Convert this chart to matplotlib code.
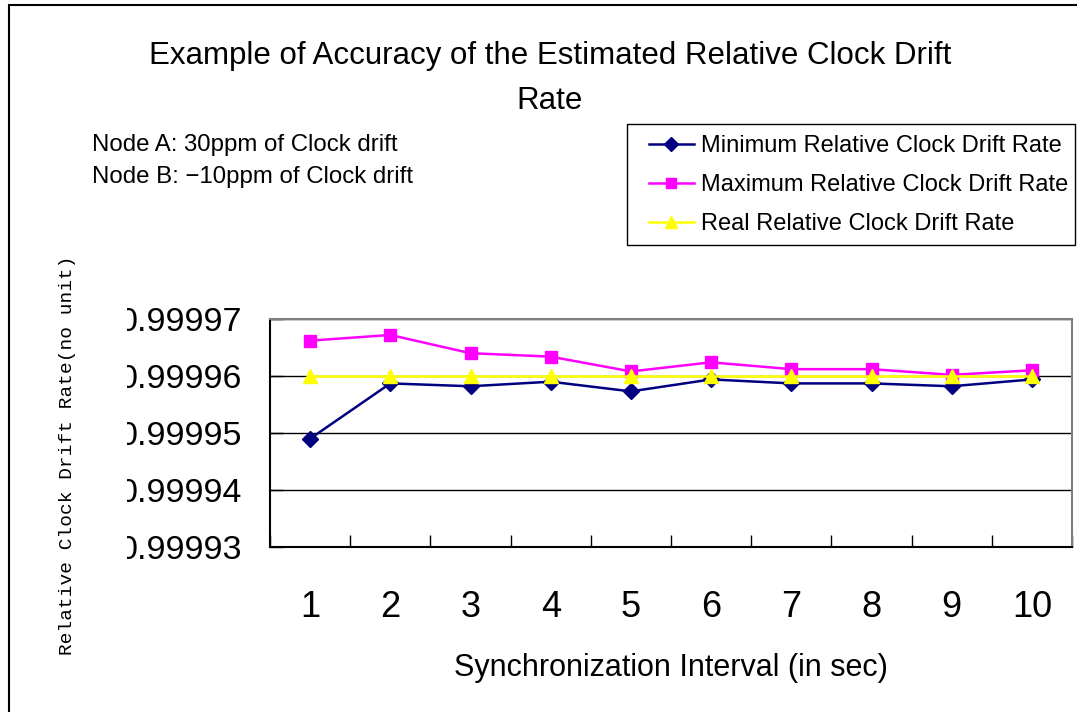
import matplotlib
matplotlib.use('Agg')
import matplotlib.pyplot as plt
from matplotlib.patches import Rectangle
from matplotlib.transforms import Bbox, TransformedBbox
from matplotlib.ticker import FormatStrFormatter

# data
intervals = [1, 2, 3, 4, 5, 6, 7, 8, 9, 10]
min_rate = [0.999949, 0.9999587, 0.9999582, 0.9999590, 0.9999573,
            0.9999594, 0.9999587, 0.9999587, 0.9999582, 0.9999594]
max_rate = [0.9999662, 0.9999672, 0.9999640, 0.9999634, 0.9999608,
            0.9999624, 0.9999612, 0.9999612, 0.9999602, 0.9999610]
real_rate = [0.99996] * 10
y_ticks = [0.99993, 0.99994, 0.99995, 0.99996, 0.99997]

SANS = ['Liberation Sans', 'DejaVu Sans']
MONO = ['Liberation Mono', 'DejaVu Sans Mono']

W, H = 1077, 712
fig = plt.figure(figsize=(W / 100, H / 100), dpi=100)
ax = fig.add_axes([270 / W, 1 - 547 / H, 802 / W, 228 / H])

ax.plot(intervals, min_rate, '-D', color='#000080', lw=1.8, ms=8.5,
        label='Minimum Relative Clock Drift Rate')
ax.plot(intervals, max_rate, '-s', color='#FF00FF', lw=1.8, ms=8,
        label='Maximum Relative Clock Drift Rate')
ax.plot(intervals, real_rate, '-^', color='#FFFF00', lw=1.8, ms=9.5,
        label='Real Relative Clock Drift Rate')

ax.set_xlim(0.5, 10.5)
ax.set_ylim(0.99993, 0.99997)

# ticks between categories, labels at category centres
ax.set_xticks([i + 0.5 for i in range(0, 11)])
ax.set_xticklabels([])
ax.set_xticks(intervals, minor=True)
ax.set_xticklabels([str(i) for i in intervals], minor=True, family=SANS, fontsize=26)
ax.tick_params(axis='x', which='major', direction='in', length=9, width=1, color='black')
ax.tick_params(axis='x', which='minor', length=0, pad=31)

ax.set_yticks(y_ticks)
ax.yaxis.set_major_formatter(FormatStrFormatter('%.5f'))
ax.tick_params(axis='y', direction='in', length=9, width=1, pad=20, labelsize=24.5)
for lbl in ax.get_yticklabels():
    lbl.set_family(SANS)

ax.grid(axis='y', color='black', lw=1)
ax.set_axisbelow(True)
for side in ['top', 'right']:
    ax.spines[side].set_color('#808080')
    ax.spines[side].set_linewidth(1.5)
for side in ['left', 'bottom']:
    ax.spines[side].set_color('black')
    ax.spines[side].set_linewidth(1.5)

ax.set_xlabel('Synchronization Interval (in sec)', family=SANS, fontsize=22, labelpad=20)
fig.text(68 / W, 1 - 455 / H, 'Relative Clock Drift Rate(no unit)', family=MONO,
         fontsize=14, rotation=90, ha='center', va='center')

fig.text(550 / W, 1 - 56 / H, 'Example of Accuracy of the Estimated Relative Clock Drift',
         family=SANS, fontsize=22.5, ha='center', va='center')
fig.text(550 / W, 1 - 101 / H, 'Rate', family=SANS, fontsize=22.5, ha='center', va='center')

fig.text(92 / W, 1 - 145 / H, 'Node A: 30ppm of Clock drift', family=SANS, fontsize=17.3, va='center')
fig.text(92 / W, 1 - 177 / H, 'Node B: \u221210ppm of Clock drift', family=SANS, fontsize=17.3, va='center')

# legend entries without frame, box drawn separately
leg = ax.legend(loc='upper left', bbox_to_anchor=(649 / W, 1 - 135 / H),
                bbox_transform=fig.transFigure, borderaxespad=0, borderpad=0,
                prop={'family': SANS, 'size': 17}, frameon=False,
                handlelength=1.9, handletextpad=0.3, labelspacing=0.72, markerscale=0.85)
fig.patches.append(Rectangle((627 / W, 1 - 245 / H), 448 / W, 121 / H, fill=False,
                             ec='black', lw=1, transform=fig.transFigure))

# outer chart border (right/bottom edges cut off in the original)
fig.patches.append(Rectangle((9 / W, -0.1), 2, 1.1 - 5 / H, fill=False, ec='black',
                             lw=1.5, transform=fig.transFigure))

# leading zeros of the y labels are clipped in the original
clip = TransformedBbox(Bbox([[127 / W, 0], [1, 1]]), fig.transFigure)
for lbl in ax.get_yticklabels():
    lbl.set_clip_box(clip)
    lbl.set_clip_on(True)

fig.savefig('out.png', dpi=100)
